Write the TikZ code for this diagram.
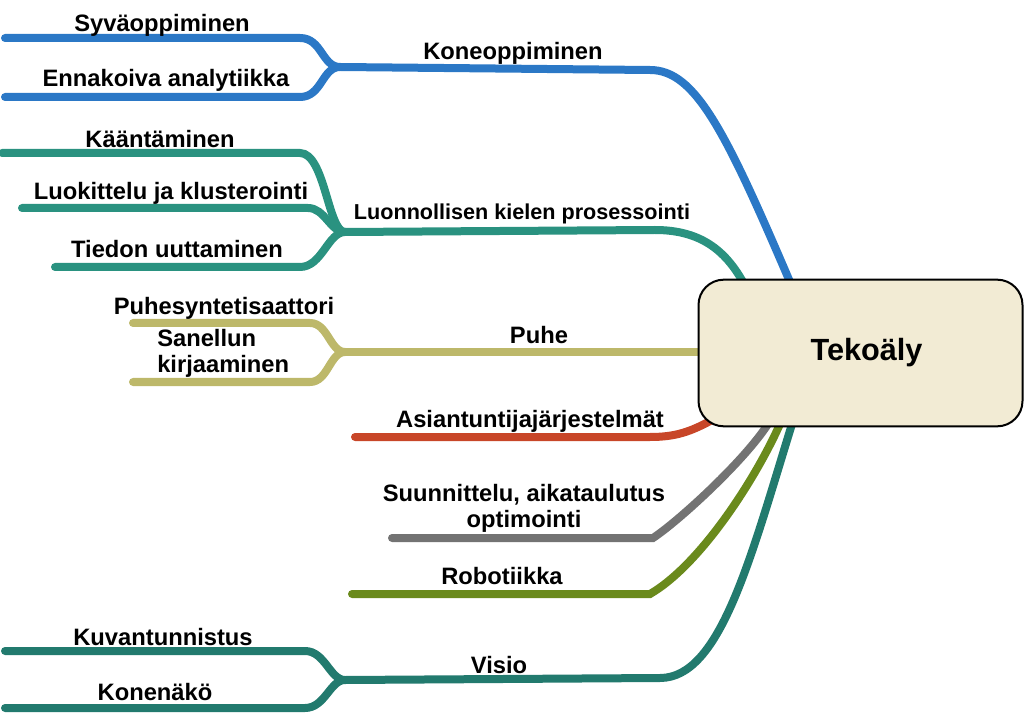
\documentclass[tikz,border=0pt]{standalone}
\usepackage{fontspec}
\setmainfont{Liberation Sans}
\definecolor{cBlue}{RGB}{43,120,198}
\definecolor{cTeal}{RGB}{42,146,128}
\definecolor{cOlive}{RGB}{189,184,106}
\definecolor{cRed}{RGB}{200,70,40}
\definecolor{cGray}{RGB}{115,115,115}
\definecolor{cGreen}{RGB}{106,138,28}
\definecolor{cVis}{RGB}{34,122,110}
\definecolor{cBox}{RGB}{242,235,212}
\begin{document}
\begin{tikzpicture}[x=0.75pt,y=-0.75pt,
  lbl/.style={font=\bfseries\fontsize{17.8}{19.5}\selectfont, inner sep=0pt, anchor=base},
  br/.style={line width=6pt, line cap=round},
]
\useasboundingbox (0,0) rectangle (1024,716);
% coordinates
\coordinate (kT) at (790,282);
\coordinate (kF) at (340,67);
\coordinate (kA) at (5,38);
\coordinate (kB) at (5,97);
\coordinate (nT) at (743,282);
\coordinate (nF) at (345,232);
\coordinate (nA) at (2,153);
\coordinate (nB) at (22,208);
\coordinate (nC) at (55,267);
\coordinate (pT) at (705,352);
\coordinate (pF) at (345,352);
\coordinate (pA) at (133,323);
\coordinate (pB) at (133,382);
\coordinate (aT) at (712,420);
\coordinate (aE) at (355,437);
\coordinate (sT) at (768,424);
\coordinate (sE) at (392,538);
\coordinate (rT) at (780,424);
\coordinate (rE) at (352,594);
\coordinate (vT) at (792,424);
\coordinate (vF) at (345,680);
\coordinate (vA) at (5,651);
\coordinate (vB) at (5,708);
% Koneoppiminen
\draw[br,cBlue] (kT) .. controls (725,130) and (695,70) .. (650,70) -- (kF);
\draw[br,cBlue] (kF) .. controls (322,67) and (322,38) .. (300,38) -- (kA);
\draw[br,cBlue] (kF) .. controls (322,67) and (322,97) .. (300,97) -- (kB);
% NLP
\draw[br,cTeal] (nT) .. controls (725,250) and (700,230) .. (655,230) -- (nF);
\draw[br,cTeal] (nF) .. controls (328,232) and (325,153) .. (300,153) -- (nA);
\draw[br,cTeal] (nF) .. controls (330,232) and (325,208) .. (308,208) -- (nB);
\draw[br,cTeal] (nF) .. controls (328,232) and (322,267) .. (300,267) -- (nC);
% Puhe
\draw[br,cOlive] (pT) -- (pF);
\draw[br,cOlive] (pF) .. controls (330,352) and (328,323) .. (310,323) -- (pA);
\draw[br,cOlive] (pF) .. controls (330,352) and (328,382) .. (310,382) -- (pB);
% Asiantuntija
\draw[br,cRed] (aT) .. controls (690,432) and (675,437) .. (650,437) -- (aE);
% Suunnittelu
\draw[br,cGray] (sT) .. controls (745,460) and (680,520) .. (653,538) -- (sE);
% Robotiikka
\draw[br,cGreen] (rT) .. controls (755,480) and (700,565) .. (650,594) -- (rE);
% Visio
\draw[br,cVis] (vT) .. controls (750,560) and (720,678) .. (660,678) -- (vF);
\draw[br,cVis] (vF) .. controls (330,680) and (325,651) .. (305,651) -- (vA);
\draw[br,cVis] (vF) .. controls (330,680) and (325,708) .. (305,708) -- (vB);
% central box
\node[draw=black, line width=1.5pt, fill=cBox, rounded corners=19pt,
  minimum width=243pt, minimum height=110pt,
  font=\bfseries\fontsize{23}{27}\selectfont] (tek) at (860.5,353) {\hspace{9pt}Tekoäly};
% labels
\node[lbl] (t1) at (513,60) {Koneoppiminen};
\node[lbl] (t2) at (162,32) {Syväoppiminen};
\node[lbl] (t3) at (166,87) {Ennakoiva analytiikka};
\node[lbl,font=\bfseries\fontsize{16.2}{19}\selectfont] (t4) at (522,220) {Luonnollisen kielen prosessointi};
\node[lbl] (t5) at (160,148) {Kääntäminen};
\node[lbl] (t6) at (171,200) {Luokittelu ja klusterointi};
\node[lbl] (t7) at (177,258) {Tiedon uuttaminen};
\node[lbl] (t8) at (539,344) {Puhe};
\node[lbl] (t9) at (224,315) {Puhesyntetisaattori};
\node[lbl,anchor=west,align=left] (t10) at (157,353) {Sanellun\\kirjaaminen};
\node[lbl] (t11) at (530,427) {Asiantuntijajärjestelmät};
\node[lbl,anchor=center,align=center] (t12) at (524,508) {Suunnittelu, aikataulutus\\optimointi};
\node[lbl] (t13) at (502,584) {Robotiikka};
\node[lbl] (t14) at (499,673) {Visio};
\node[lbl] (t15) at (163,645) {Kuvantunnistus};
\node[lbl] (t16) at (155,700) {Konenäkö};
\end{tikzpicture}
\end{document}
